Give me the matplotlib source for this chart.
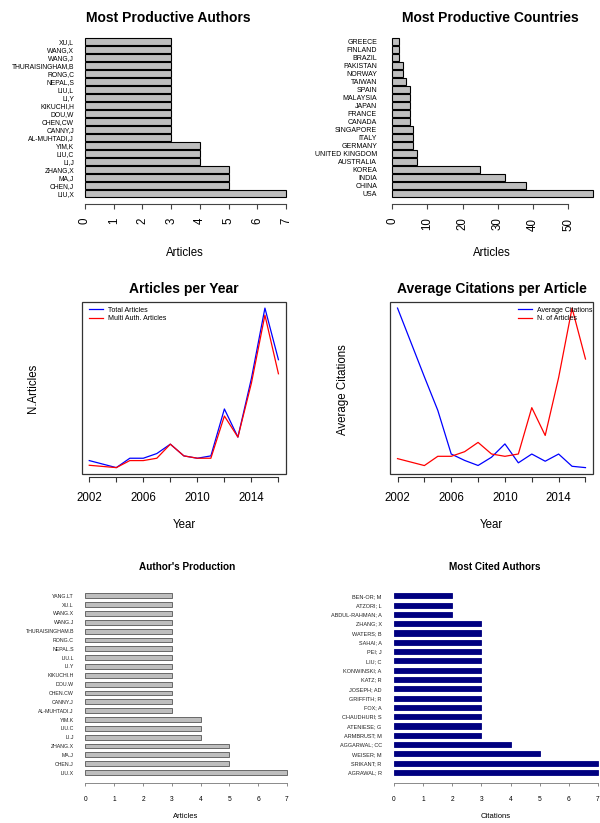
import matplotlib
matplotlib.use("Agg")
import matplotlib.pyplot as plt
from matplotlib.patches import Rectangle

plt.rcParams['font.family'] = ['Liberation Sans', 'DejaVu Sans']

# ---- data ----
top_authors = ["LIU,X", "CHEN,J", "MA,J", "ZHANG,X", "LI,J", "LIU,C", "YIM,K",
               "AL-MUHTADI,J", "CANNY,J", "CHEN,CW", "DOU,W", "KIKUCHI,H", "LI,Y",
               "LIU,L", "NEPAL,S", "RONG,C", "THURAISINGHAM,B", "WANG,J", "WANG,X", "XU,L"]
top_author_articles = [7, 5, 5, 5, 4, 4, 4, 3, 3, 3, 3, 3, 3, 3, 3, 3, 3, 3, 3, 3]

countries = ["USA", "CHINA", "INDIA", "KOREA", "AUSTRALIA", "UNITED KINGDOM", "GERMANY",
             "ITALY", "SINGAPORE", "CANADA", "FRANCE", "JAPAN", "MALAYSIA", "SPAIN",
             "TAIWAN", "NORWAY", "PAKISTAN", "BRAZIL", "FINLAND", "GREECE"]
country_articles = [57, 38, 32, 25, 7, 7, 6, 6, 6, 5, 5, 5, 5, 5, 4, 3, 3, 2, 2, 2]

years = [2002, 2004, 2005, 2006, 2007, 2008, 2009, 2010, 2011, 2012, 2013, 2014, 2015, 2016]
total_articles = [4, 1, 5, 5, 7, 11, 6, 5, 6, 26, 14, 39, 69, 47]
multi_auth_articles = [2, 1, 4, 4, 5, 11, 6, 5, 5, 23, 14, 37, 66, 41]
avg_citations = [30, 17.1, 10.8, 2.6, 1.4, 0.45, 2.0, 4.5, 0.95, 2.6, 1.25, 2.6, 0.3, 0.05]

prod_authors = ["LIU.X", "CHEN.J", "MA.J", "ZHANG.X", "LI.J", "LIU.C", "YIM.K",
                "AL-MUHTADI.J", "CANNY.J", "CHEN.CW", "DOU.W", "KIKUCHI.H", "LI.Y",
                "LIU.L", "NEPAL.S", "RONG.C", "THURAISINGHAM.B", "WANG.J", "WANG.X",
                "XU.L", "YANG.LT"]
prod_articles = [7, 5, 5, 5, 4, 4, 4, 3, 3, 3, 3, 3, 3, 3, 3, 3, 3, 3, 3, 3, 3]

cited_authors = ["AGRAWAL; R", "SRIKANT; R", "WEISER; M", "AGGARWAL; CC", "ARMBRUST; M",
                 "ATENIESE; G", "CHAUDHURI; S", "FOX; A", "GRIFFITH; R", "JOSEPH; AD",
                 "KATZ; R", "KONWINSKI; A", "LIU; C", "PEI; J", "SAHAI; A", "WATERS; B",
                 "ZHANG; X", "ABDUL-RAHMAN; A", "ATZORI; L", "BEN-OR; M"]
cited_counts = [7, 7, 5, 4, 3, 3, 3, 3, 3, 3, 3, 3, 3, 3, 3, 3, 3, 2, 2, 2]

W, H = 600, 823
fig = plt.figure(figsize=(6, 8.23), dpi=100)


def box(l, t, r, b):
    return [l / W, 1 - b / H, (r - l) / W, (b - t) / H]


def ftext(x, y, s, **kw):
    fig.text(x / W, 1 - y / H, s, ha='center', va='center', **kw)


def r_barplot(ax, names, vals, xmax, ticks, bound, lbl_size, lbl_pad):
    pos = range(len(vals))
    bars = ax.barh(pos, vals, height=0.833, color='#BEBEBE', edgecolor='black', linewidth=0.8)
    for b in bars:
        b.set_clip_on(False)
    ax.set_ylim(-0.4167, len(vals) - 0.5833)
    ax.set_xlim(0, xmax)
    ax.set_yticks(list(pos))
    ax.set_yticklabels(names, fontsize=lbl_size)
    ax.tick_params(axis='y', length=0, pad=lbl_pad)
    for s in ['top', 'right', 'left']:
        ax.spines[s].set_visible(False)
    ax.spines['bottom'].set_position(('outward', 4.9))
    ax.spines['bottom'].set_bounds(0, bound)
    ax.spines['bottom'].set_color('#444444')
    ax.set_xticks(ticks)
    ax.set_xticklabels([str(t) for t in ticks], rotation=90, fontsize=8.3)
    ax.tick_params(axis='x', length=3.6, pad=6.5, color='#444444')


# top left
ax1 = fig.add_axes(box(85, 38.3, 286, 196.7))
r_barplot(ax1, top_authors, top_author_articles, 7, list(range(8)), 7, 4.9, 7.9)
ftext(168, 18, "Most Productive Authors", fontsize=10, fontweight='bold')
ftext(185, 253, "Articles", fontsize=8.3)

# top right
ax2 = fig.add_axes(box(392, 38.3, 593, 196.7))
r_barplot(ax2, countries, country_articles, 57, list(range(0, 51, 10)), 50, 5.0, 10.8)
ftext(490, 18, "Most Productive Countries", fontsize=10, fontweight='bold')
ftext(492, 253, "Articles", fontsize=8.3)


def r_lineplot(ax, ylo, yhi):
    pad = (yhi - ylo) * 0.04
    ax.set_ylim(ylo - pad, yhi + pad)
    ax.set_xlim(2002 - 0.56, 2016 + 0.56)
    for s in ['top', 'right', 'left']:
        ax.spines[s].set_visible(False)
    ax.spines['bottom'].set_position(('outward', 2))
    ax.spines['bottom'].set_bounds(2002, 2016)
    ax.spines['bottom'].set_color('#333333')
    ax.add_patch(Rectangle((0, 0), 1, 1, transform=ax.transAxes, fill=False,
                           edgecolor='#333333', linewidth=0.9, clip_on=False))
    ax.set_yticks([])
    tks = list(range(2002, 2017, 2))
    ax.set_xticks(tks)
    ax.set_xticklabels([str(t) if (t - 2002) % 4 == 0 else '' for t in tks], fontsize=8.3)
    ax.tick_params(axis='x', length=3.6, pad=7.5, color='#333333')


# middle left
ax3 = fig.add_axes(box(81.7, 301.7, 286, 474))
ax3.plot(years, total_articles, color='blue', linewidth=0.9, label='Total Articles')
ax3.plot(years, multi_auth_articles, color='red', linewidth=0.9, label='Multi Auth. Articles')
r_lineplot(ax3, min(total_articles + multi_auth_articles), max(total_articles + multi_auth_articles))
ax3.legend(loc='upper left', bbox_to_anchor=(0.037, 0.972), frameon=False, fontsize=5,
           handlelength=1.95, handletextpad=0.75, labelspacing=0.25, borderpad=0,
           borderaxespad=0)
ftext(184, 289, "Articles per Year", fontsize=10, fontweight='bold')
ftext(184, 525, "Year", fontsize=8.3)
ftext(33, 388, "N.Articles", fontsize=8.3, rotation=90)

# middle right
ax4 = fig.add_axes(box(390, 301.7, 593, 474))
scale = max(avg_citations) / max(total_articles)
ax4.plot(years, avg_citations, color='blue', linewidth=0.9, label='Average Citations')
ax4.plot(years, [v * scale for v in total_articles], color='red', linewidth=0.9,
         label='N. of Articles')
r_lineplot(ax4, min(avg_citations), max(avg_citations))
ax4.legend(loc='upper left', bbox_to_anchor=(0.631, 0.972), frameon=False, fontsize=5,
           handlelength=1.95, handletextpad=0.75, labelspacing=0.25, borderpad=0,
           borderaxespad=0)
ftext(492, 289, "Average Citations per Article", fontsize=10, fontweight='bold')
ftext(491, 525, "Year", fontsize=8.3)
ftext(343, 390, "Average Citations", fontsize=8.3, rotation=90)


def thin_barplot(ax, names, vals, color, edge, lbl_size, lbl_pad):
    pos = range(len(vals))
    bars = ax.barh(pos, vals, height=0.55, color=color, edgecolor=edge, linewidth=0.6)
    for b in bars:
        b.set_clip_on(False)
    ax.set_ylim(-0.275, len(vals) - 0.725)
    ax.set_xlim(0, 7)
    ax.set_yticks(list(pos))
    ax.set_yticklabels(names, fontsize=lbl_size, color='#222222')
    ax.tick_params(axis='y', length=0, pad=lbl_pad)
    for s in ['top', 'right', 'left']:
        ax.spines[s].set_visible(False)
    ax.spines['bottom'].set_position(('outward', 5.8))
    ax.spines['bottom'].set_bounds(0, 7)
    ax.spines['bottom'].set_color('#777777')
    ax.spines['bottom'].set_linewidth(0.6)
    ax.set_xticks(list(range(8)))
    ax.tick_params(axis='x', length=2.5, pad=6.5, color='#777777', width=0.6,
                   labelsize=4.8)


# bottom left
ax5 = fig.add_axes(box(85.5, 593.3, 287, 775))
thin_barplot(ax5, prod_authors, prod_articles, '#BEBEBE', '#555555', 3.8, 8.3)
ftext(187, 567, "Author's Production", fontsize=7.2, fontweight='bold')
ftext(186, 816, "Articles", fontsize=5.5)

# bottom right
ax6 = fig.add_axes(box(394, 593.3, 598, 775))
thin_barplot(ax6, cited_authors, cited_counts, '#000080', '#000080', 4.0, 8.9)
ftext(495, 567, "Most Cited Authors", fontsize=7.2, fontweight='bold')
ftext(496, 816, "Citations", fontsize=5.5)

fig.savefig("out.png", dpi=100)
